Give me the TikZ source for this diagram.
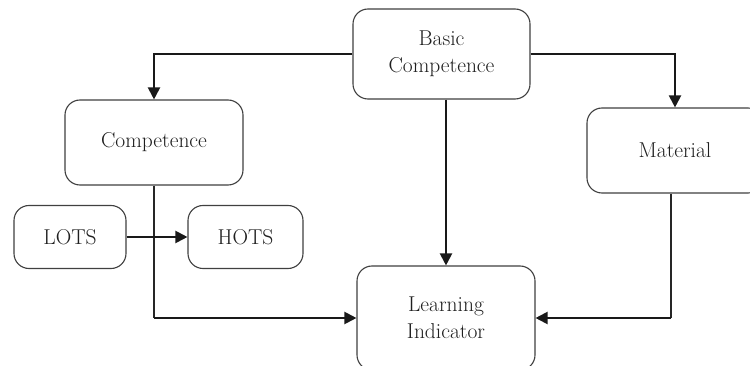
\documentclass[tikz,border=0pt]{standalone}
\usetikzlibrary{arrows.meta,calc}
\begin{document}
\begin{tikzpicture}[x=1pt,y=-1pt,
  box/.style={draw=black!75,line width=1.1pt,rounded corners=15pt,align=center,
    text=black!88,font=\fontsize{21.5}{27}\selectfont,inner sep=0pt},
  thin/.style={line width=1.1pt,draw=black!85},
  arr/.style={line width=2pt,draw=black!90,-{Triangle[length=12pt,width=12pt]}}]
\clip (0,0) rectangle (750,366);
\fill[white] (0,0) rectangle (750,366);
\node[box,minimum width=177pt,minimum height=90pt] (basic) at (441.5,54) {Basic\\Competence};
\node[box,minimum width=178pt,minimum height=85pt] (comp) at (154,142.5) {Competence};
\node[box,minimum width=176pt,minimum height=85pt] (mat) at (675,150.5) {Material};
\node[box,minimum width=178pt,minimum height=104pt] (learn) at (446,318) {Learning\\Indicator};
\node[box,minimum width=112pt,minimum height=63pt] (lots) at (70,237) {LOTS};
\node[box,minimum width=115pt,minimum height=63pt] (hots) at (245.5,237) {HOTS};
\coordinate (c1) at (comp.south |- learn.west);
\coordinate (m1) at ($(mat.south |- learn.east)+(-4,0)$);
\draw[arr] (basic.west) -| (comp.north);
\draw[arr] (basic.east) -| (mat.north);
\draw[arr] (learn.north |- basic.south) -- (learn.north);
\draw[thin] (comp.south) -- (c1);
\draw[arr] (c1) -- (learn.west);
\draw[thin] ($(mat.south)+(-4,0)$) -- (m1);
\draw[arr] (m1) -- (learn.east);
\draw[arr] (lots.east) -- (hots.west);
\end{tikzpicture}
\end{document}
